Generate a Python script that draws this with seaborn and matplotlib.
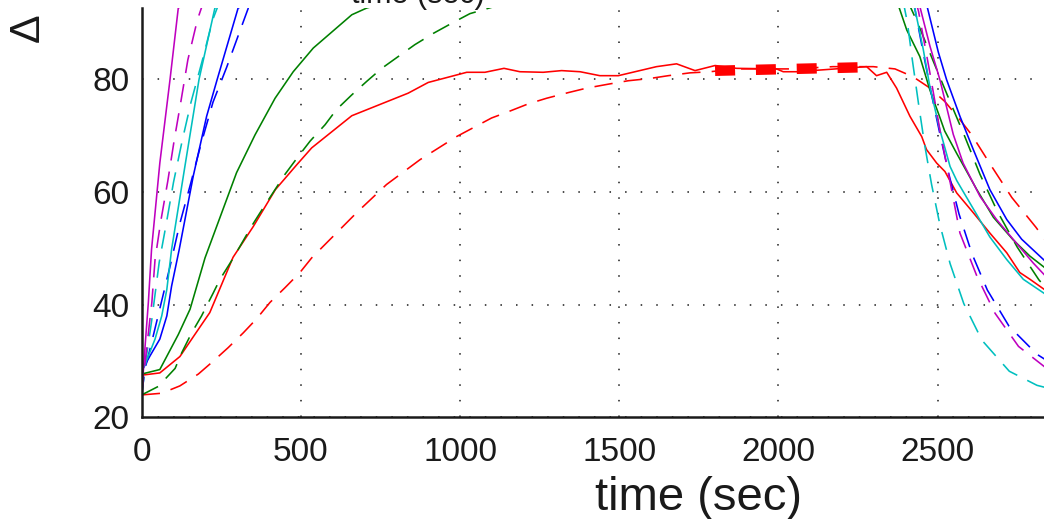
import matplotlib
matplotlib.use("Agg")
import matplotlib.pyplot as plt
import pandas as pd
import seaborn as sns

# ---- temperature traces (time in s, value in deg) ----
# solid = model, dashed = measurement; one pair per colour channel
red_solid_t = [0, 57, 120, 162, 214, 287, 351, 420, 487, 534, 660, 837, 900, 1021, 1078, 1138,
               1188, 1261, 1319, 1377, 1439, 1497, 1617, 1680, 1738, 1801, 1869, 1994, 2015,
               2057, 2277, 2308, 2340, 2371, 2413, 2450, 2465, 2497, 2523, 2560, 2612, 2664,
               2717, 2758, 2790, 2840]
red_solid_v = [27.5, 27.9, 30.8, 34.3, 38.6, 48.4, 53.9, 60.4, 64.8, 67.8, 73.5, 77.5, 79.4, 81.2,
               81.2, 81.9, 81.3, 81.2, 81.5, 81.3, 80.6, 80.6, 82.2, 82.7, 81.5, 82.4, 81.9, 81.8,
               81.3, 81.3, 82.2, 80.6, 81.2, 78.4, 73.4, 69.8, 67.5, 65.1, 63.6, 59.8, 56.3, 52.7,
               49.2, 45.7, 44.5, 42.5]

red_dash_t = [0, 63, 120, 178, 225, 272, 319, 361, 403, 450, 497, 534, 675, 769, 874, 989, 1099,
              1151, 1214, 1272, 1340, 1398, 1466, 1528, 1596, 1654, 1722, 1785, 1869, 2041, 2109,
              2171, 2298, 2366, 2423, 2476, 2523, 2570, 2607, 2664, 2733, 2809, 2840]
red_dash_v = [24.0, 24.3, 25.6, 27.7, 30.0, 32.4, 35.0, 37.5, 40.4, 43.0, 45.7, 48.3, 56.3, 61.3,
              65.7, 69.8, 73.1, 74.2, 75.6, 76.6, 77.6, 78.4, 79.1, 79.7, 80.1, 80.6, 81.1, 81.3,
              81.8, 81.8, 82.0, 82.2, 82.2, 81.8, 80.4, 78.4, 76.0, 72.8, 70.1, 65.0, 59.0, 53.7,
              51.3]

green_solid_t = [0, 57, 115, 152, 199, 298, 356, 419, 476, 539, 660, 707, 1000, 2340, 2371, 2403,
                 2444, 2476, 2507, 2522, 2560, 2622, 2675, 2737, 2790, 2840]
green_solid_v = [27.7, 28.5, 34.7, 39.2, 48.3, 63.4, 70.1, 76.6, 81.3, 85.5, 91.4, 92.6, 97.0,
                 97.0, 94.0, 88.7, 84.0, 78.0, 73.2, 70.8, 66.8, 60.5, 55.5, 51.5, 48.6, 46.4]

green_dash_t = [0, 52, 105, 126, 157, 188, 225, 246, 288, 345, 382, 450, 492, 529, 576, 612, 660,
                707, 754, 806, 858, 916, 974, 1031, 1300, 2380, 2437, 2486, 2533, 2586, 2633,
                2688, 2750, 2818, 2840]
green_dash_v = [24.0, 25.5, 28.7, 31.5, 35.0, 38.0, 42.1, 44.5, 48.3, 53.9, 57.2, 63.1, 66.3, 69.0,
                71.9, 74.6, 77.2, 79.6, 81.9, 84.0, 86.1, 88.1, 89.9, 91.6, 96.0, 97.0, 90.0, 83.2,
                76.8, 69.7, 63.1, 56.5, 50.2, 44.4, 43.0]

blue_solid_t = [0, 26, 57, 79, 94, 118, 162, 204, 237, 303, 600, 2420, 2462, 2502, 2528, 2570,
                2612, 2664, 2717, 2764, 2840]
blue_solid_v = [28.2, 30.9, 33.9, 38.0, 43.3, 49.8, 62.8, 73.4, 79.9, 92.6, 100.0, 100.0, 94.0,
                84.8, 79.9, 73.4, 67.5, 60.4, 55.1, 51.6, 47.6]

blue_dash_t = [0, 10, 30, 60, 90, 119, 153, 186, 224, 267, 311, 335, 600, 2400, 2430, 2455, 2481,
               2507, 2535, 2567, 2608, 2656, 2724, 2812, 2840]
blue_dash_v = [24.0, 28.5, 33.0, 40.0, 47.0, 54.2, 61.3, 68.4, 75.9, 82.1, 88.9, 92.6, 100.0,
               100.0, 92.0, 84.6, 77.2, 70.3, 63.2, 56.1, 49.0, 42.6, 36.2, 31.2, 30.2]

cyan_solid_t = [0, 16, 42, 63, 79, 94, 136, 180, 230, 500, 2380, 2423, 2455, 2476, 2507, 2539,
                2560, 2612, 2664, 2717, 2769, 2840]
cyan_solid_v = [28.2, 30.2, 33.9, 38.0, 42.7, 49.8, 64.6, 79.9, 92.6, 100.0, 100.0, 94.0, 85.2,
                78.5, 71.0, 64.5, 62.0, 57.0, 52.0, 48.0, 44.5, 41.8]

cyan_dash_t = [0, 17, 31, 55, 78, 100, 127, 155, 190, 223, 240, 500, 2370, 2405, 2420, 2440, 2459,
               2481, 2507, 2539, 2582, 2639, 2725, 2812, 2840]
cyan_dash_v = [24.0, 31.6, 37.0, 47.5, 54.6, 61.7, 69.0, 75.9, 83.2, 90.5, 93.0, 100.0, 100.0,
               90.0, 83.6, 75.6, 68.4, 61.3, 54.2, 47.3, 40.2, 33.7, 28.2, 25.7, 25.3]

magenta_solid_t = [0, 10, 21, 31, 57, 89, 115, 400, 2400, 2439, 2476, 2507, 2549, 2580, 2633,
                   2685, 2737, 2800, 2840]
magenta_solid_v = [24.0, 32.1, 40.4, 49.8, 65.1, 79.9, 92.6, 100.0, 100.0, 94.0, 85.8, 79.9, 70.2,
                   65.1, 59.2, 55.1, 51.6, 47.4, 45.0]

magenta_dash_t = [0, 17, 32, 42, 60, 82, 102, 124, 145, 175, 190, 400, 2400, 2440, 2476, 2510,
                  2540, 2570, 2623, 2680, 2754, 2840]
magenta_dash_v = [24.0, 33.0, 40.4, 48.0, 54.8, 61.9, 69.1, 76.3, 83.4, 90.5, 93.0, 100.0, 100.0,
                  92.0, 81.0, 70.0, 61.5, 52.7, 45.1, 38.5, 32.6, 28.8]

# steady-state window marker
plateau_t = [1801, 2250]
plateau_v = [81.47, 82.07]

x_ticks = [0, 500, 1000, 1500, 2000, 2500]
y_ticks = [20, 40, 60, 80]

series = [
    ("r", "solid", red_solid_t, red_solid_v),
    ("r", "dashed", red_dash_t, red_dash_v),
    ("g", "solid", green_solid_t, green_solid_v),
    ("g", "dashed", green_dash_t, green_dash_v),
    ("b", "solid", blue_solid_t, blue_solid_v),
    ("b", "dashed", blue_dash_t, blue_dash_v),
    ("c", "solid", cyan_solid_t, cyan_solid_v),
    ("c", "dashed", cyan_dash_t, cyan_dash_v),
    ("m", "solid", magenta_solid_t, magenta_solid_v),
    ("m", "dashed", magenta_dash_t, magenta_dash_v),
]
frames = [pd.DataFrame({"colour": c, "kind": k, "t": t, "v": v}) for c, k, t, v in series]
df = pd.concat(frames, ignore_index=True)

sns.set_theme(style="white")
plt.rcParams["font.family"] = ["Liberation Sans", "DejaVu Sans"]
plt.rcParams["text.color"] = "k"
plt.rcParams["axes.labelcolor"] = "k"

palette = {"r": (1, 0, 0), "g": (0, 0.5, 0), "b": (0, 0, 1),
           "c": (0, 0.75, 0.75), "m": (0.75, 0, 0.75)}
dashes = {"solid": "", "dashed": (11.5, 7.0)}

fig = plt.figure(figsize=(10.44, 5.19), dpi=100)
ax = fig.add_axes([0.1357, 0.1956, 1.0674, 0.789])

sns.lineplot(data=df, x="t", y="v", hue="colour", style="kind", palette=palette,
             dashes=dashes, estimator=None, linewidth=1.15, legend=False, ax=ax)
sns.lineplot(x=plateau_t, y=plateau_v, color=(1, 0, 0), linewidth=7.5,
             linestyle=(0, (1.92, 2.0)), dash_capstyle="butt", ax=ax)

ax.set_xlim(0, 3500)
ax.set_ylim(20, 92.6)
ax.set_xticks(x_ticks)
ax.set_yticks(y_ticks)
ax.grid(True, color="k", linestyle=(0, (1, 9.2)), linewidth=1.1)
ax.tick_params(direction="in", length=7, width=1.1, labelsize=24, colors="k")
ax.tick_params(axis="x", pad=14)
ax.tick_params(axis="y", pad=9)
for side in ("left", "bottom"):
    ax.spines[side].set_linewidth(1.8)
    ax.spines[side].set_color("k")
ax.spines["top"].set_visible(False)
ax.spines["right"].set_visible(False)

ax.set_xlabel("time (sec)", fontsize=34, va="baseline", color="k")
ax.xaxis.set_label_coords(0.5, -0.227)
ax.set_ylabel("Δ", fontsize=31, rotation=90, va="center", ha="center", color="k")
ax.yaxis.set_label_coords(-0.1025, 0.952)

# x label of the panel above
fig.text(418 / 1044, 1 - 2.5 / 519, "time (sec)", fontsize=22, ha="center",
         va="baseline", color="k")

fig.savefig("out.png", dpi=100)
